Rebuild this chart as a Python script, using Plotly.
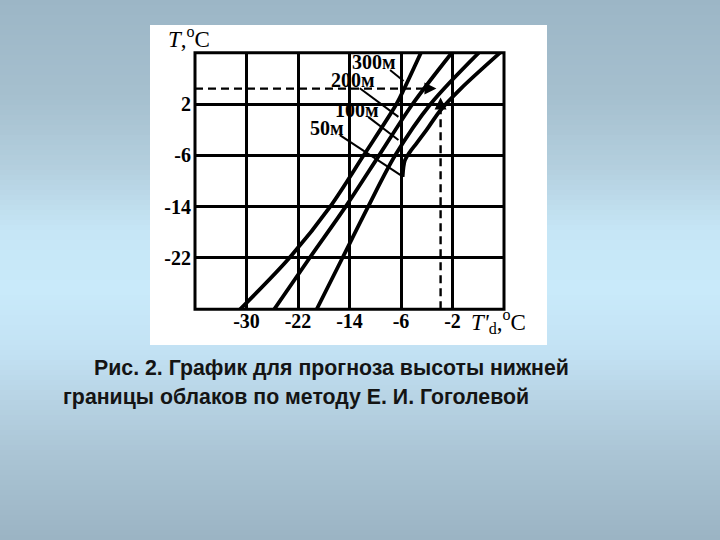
import plotly.graph_objects as go

# ---------------- data ----------------
x_tick_vals = [-30, -22, -14, -6, 2]
x_tick_text = ["-30", "-22", "-14", "-6", "-2"]
y_tick_vals = [2, -6, -14, -22]
y_tick_text = ["2", "-6", "-14", "-22"]

c300_x = [-31.0, -23.35, -17.0, -11.8, -6.7, -5.5, -2.9]
c300_y = [-30, -22, -14, -6, 2, 4.4, 10]
c200_x = [-25.7, -20.2, -14.6, -9.4, -4.2, 1.9]
c200_y = [-30, -22, -14, -6, 2, 10]
c100_x = [-19.1, -15.1, -11.1, -6.9, -1.4, 6.1]
c100_y = [-30, -22, -14, -6, 2, 10]
c50_x = [-5.75, -5.4, -4.6, -3.8, -2.0, 0.1, 3.3, 9.4]
c50_y = [-9.35, -6.8, -5.45, -4.4, -2.0, 1.0, 4.4, 10]

labels = ["300м", "200м", "100м", "50м"]
label_x = [-10.2, -13.5, -12.9, -17.5]
label_y = [8.5, 5.7, 1.1, -1.7]
leader_x0 = [-7.7, -12.4, -11.1, -15.5]
leader_y0 = [7.3, 4.45, 0.0, -2.84]
leader_x1 = [-5.6, -6.4, -6.4, -5.65]
leader_y1 = [5.6, 0.0, -3.6, -9.35]

t_example = 4.4      # horizontal dashed line (T)
td_example = 0.15    # vertical dashed line (T'd)
h_arrow_tip = -0.5
v_arrow_tip = 3.0

caption1 = "Рис. 2. График для прогноза высоты нижней"
caption2 = "границы облаков по методу Е. И. Гоголевой"

# ---------------- layout helpers ----------------
W, H = 720, 540
def fx(p):
    return p / W
def fy(p):
    return 1 - p / H

fig = go.Figure()

# background gradient as bands
stops = [(0, (156, 182, 198)), (100, (166, 192, 207)), (170, (180, 208, 223)),
         (230, (198, 230, 246)), (290, (201, 234, 250)), (350, (195, 226, 244)),
         (400, (183, 211, 228)), (460, (169, 195, 211)), (540, (155, 180, 196))]
def col_at(y):
    for (y0, c0), (y1, c1) in zip(stops[:-1], stops[1:]):
        if y0 <= y <= y1:
            t = (y - y0) / (y1 - y0)
            return "rgb(%d,%d,%d)" % tuple(round(a + (b - a) * t) for a, b in zip(c0, c1))
    return "rgb(%d,%d,%d)" % stops[-1][1]

shapes = []
band = 5
for yy in range(0, H, band):
    shapes.append(dict(type="rect", xref="paper", yref="paper", layer="below",
                       x0=0, x1=1, y0=fy(yy + band + 0.5), y1=fy(yy),
                       fillcolor=col_at(yy + band / 2), line=dict(width=0)))
# white panel
shapes.append(dict(type="rect", xref="paper", yref="paper", layer="below",
                   x0=fx(150), x1=fx(547), y0=fy(345), y1=fy(25),
                   fillcolor="white", line=dict(width=0)))
# plot frame
shapes.append(dict(type="rect", xref="x domain", yref="y domain", layer="above",
                   x0=0, x1=1, y0=0, y1=1, line=dict(color="black", width=3)))

curve_line = dict(color="black", width=3.8, shape="spline", smoothing=0.9)
for cx, cy in [(c300_x, c300_y), (c200_x, c200_y), (c100_x, c100_y), (c50_x, c50_y)]:
    fig.add_trace(go.Scatter(x=cx, y=cy, mode="lines", line=curve_line,
                             hoverinfo="skip", showlegend=False))

# leader lines
for i in range(len(labels)):
    fig.add_trace(go.Scatter(x=[leader_x0[i], leader_x1[i]], y=[leader_y0[i], leader_y1[i]],
                             mode="lines", line=dict(color="black", width=2),
                             hoverinfo="skip", showlegend=False))

# dashed example lines
dash_line = dict(color="black", width=2.4, dash="8px,5px")
fig.add_trace(go.Scatter(x=[-38, h_arrow_tip - 0.8], y=[t_example, t_example], mode="lines",
                         line=dash_line, hoverinfo="skip", showlegend=False))
fig.add_trace(go.Scatter(x=[td_example, td_example], y=[-30, v_arrow_tip - 0.8], mode="lines",
                         line=dash_line, hoverinfo="skip", showlegend=False))

annotations = []
# arrow heads at the ends of the dashed lines
annotations.append(dict(x=h_arrow_tip, y=t_example, ax=h_arrow_tip - 1.6, ay=t_example,
                        xref="x", yref="y", axref="x", ayref="y", text="",
                        showarrow=True, arrowhead=2, arrowsize=1.2, arrowwidth=2, arrowcolor="black"))
annotations.append(dict(x=td_example, y=v_arrow_tip, ax=td_example, ay=v_arrow_tip - 1.6,
                        xref="x", yref="y", axref="x", ayref="y", text="",
                        showarrow=True, arrowhead=2, arrowsize=1.2, arrowwidth=2, arrowcolor="black"))

serif = "Liberation Serif"
for i, t in enumerate(labels):
    annotations.append(dict(x=label_x[i], y=label_y[i], xref="x", yref="y", text=t,
                            showarrow=False,
                            font=dict(family=serif, size=20, color="black", weight="bold")))

# axis titles
annotations.append(dict(x=fx(166), y=fy(37), xref="paper", yref="paper", xanchor="left",
                        yanchor="middle", showarrow=False,
                        text="<i>T</i>,<sup>o</sup>C",
                        font=dict(family=serif, size=23, color="black")))
annotations.append(dict(x=fx(469), y=fy(321), xref="paper", yref="paper", xanchor="left",
                        yanchor="middle", showarrow=False,
                        text="<i>T'</i><sub>d</sub>,<sup>o</sup>C",
                        font=dict(family=serif, size=23, color="black")))

# caption
cap_font = dict(family="Liberation Sans", size=21.3, color="#141414")
annotations.append(dict(x=fx(92), y=fy(368), xref="paper", yref="paper", xanchor="left",
                        yanchor="middle", showarrow=False, text="<b>" + caption1 + "</b>", font=cap_font))
annotations.append(dict(x=fx(61), y=fy(397), xref="paper", yref="paper", xanchor="left",
                        yanchor="middle", showarrow=False, text="<b>" + caption2 + "</b>", font=cap_font))

tick_font = dict(family=serif, size=20, color="black", weight="bold")
fig.update_layout(
    width=W, height=H,
    margin=dict(l=0, r=0, t=0, b=0),
    paper_bgcolor="rgb(180,208,223)",
    plot_bgcolor="rgba(0,0,0,0)",
    shapes=shapes,
    annotations=annotations,
    showlegend=False,
    xaxis=dict(domain=[fx(195), fx(504)], range=[-38, 10], tickvals=x_tick_vals,
               ticktext=x_tick_text, showgrid=True, gridcolor="black", gridwidth=3,
               showline=False, zeroline=False, ticks="", automargin=False, fixedrange=True,
               anchor="free", position=fy(307),
               tickfont=tick_font),
    yaxis=dict(domain=[fy(309.3), fy(52.7)], range=[-30, 10], tickvals=y_tick_vals,
               ticktext=y_tick_text, showgrid=True, gridcolor="black", gridwidth=3,
               showline=False, zeroline=False, ticks="", automargin=False, fixedrange=True,
               anchor="free", position=fx(191),
               tickfont=tick_font),
)

fig.write_html("out.html", config={"displayModeBar": False},
               post_script="document.body.style.margin='0';")
